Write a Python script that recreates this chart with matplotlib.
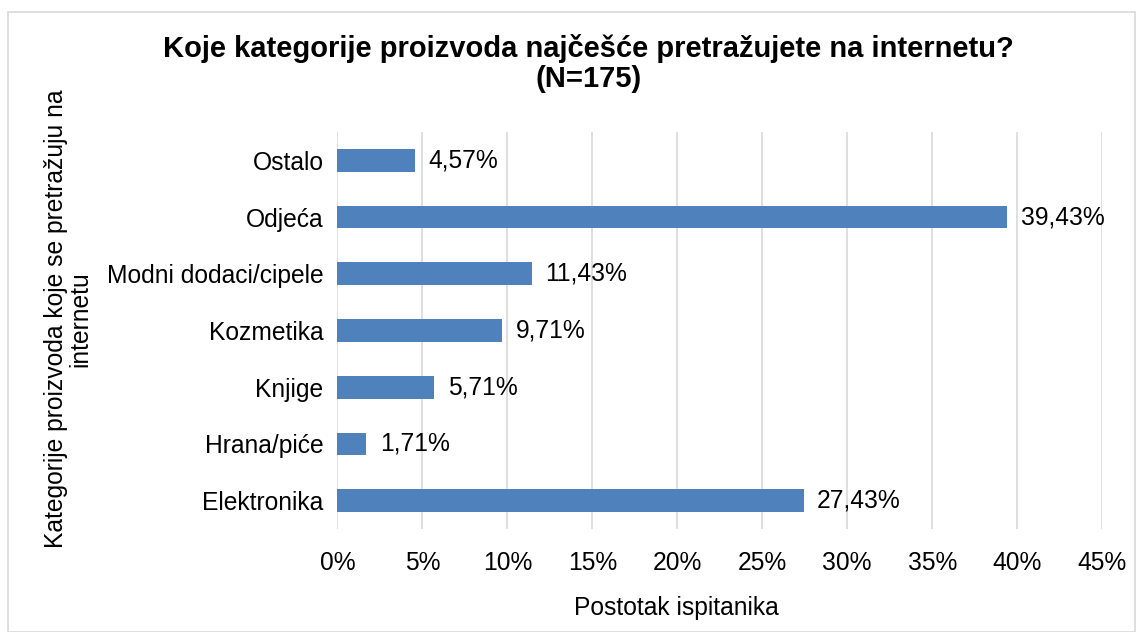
import matplotlib
matplotlib.use("Agg")
import matplotlib.pyplot as plt
from matplotlib.patches import Rectangle

plt.rcParams["font.family"] = ["Liberation Sans", "DejaVu Sans"]

# categories listed bottom to top
categories = ["Elektronika", "Hrana/piće", "Knjige", "Kozmetika",
              "Modni dodaci/cipele", "Odjeća", "Ostalo"]
values = [27.43, 1.71, 5.71, 9.71, 11.43, 39.43, 4.57]
xticks = [0, 5, 10, 15, 20, 25, 30, 35, 40, 45]

title = "Koje kategorije proizvoda najčešće pretražujete na internetu?\n(N=175)"
xlabel = "Postotak ispitanika"
ylabel = "Kategorije proizvoda koje se pretražuju na\ninternetu"

fs = 17.7

fig = plt.figure(figsize=(11.38, 6.32), dpi=100)
ax = fig.add_axes([0.2965, 0.163, 0.672, 0.628])

ax.barh(range(len(categories)), values, height=0.4, color="#4F81BD", zorder=3)
for i, v in enumerate(values):
    ax.text(v + 0.8, i, f"{v:.2f}".replace(".", ",") + "%", va="center", ha="left",
            fontsize=fs, color="#000000")

ax.set_xlim(0, 45)
ax.set_ylim(-0.5, len(categories) - 0.5)
ax.set_xticks(xticks)
ax.set_xticklabels([f"{t}%" for t in xticks], fontsize=fs)
ax.set_yticks(range(len(categories)))
ax.set_yticklabels(categories, fontsize=fs)
ax.tick_params(axis="both", length=0)
ax.tick_params(axis="x", pad=16)
ax.tick_params(axis="y", pad=10)
ax.grid(axis="x", color="#D9D9D9", linewidth=1.2, zorder=0)
for s in ax.spines.values():
    s.set_visible(False)

# x label sits left of the axes centre, as in the source chart
ax.set_xlabel(xlabel, fontsize=fs, labelpad=17)
ax.xaxis.set_label_coords(0.443, -0.2)
ax.xaxis.label.set_va("center")
fig.text(0.06, 0.495, ylabel, rotation=90, ha="center", va="center",
         fontsize=fs, multialignment="center", linespacing=1.0)
fig.text(0.517, 0.9, title, ha="center", va="center", fontsize=21,
         fontweight="bold", linespacing=1.1)

fig.patches.append(Rectangle((0.007, 0.0), 0.99, 0.981, transform=fig.transFigure,
                             fill=False, edgecolor="#D9D9D9", linewidth=1.2))

fig.savefig("out.png", dpi=100, facecolor="white")
